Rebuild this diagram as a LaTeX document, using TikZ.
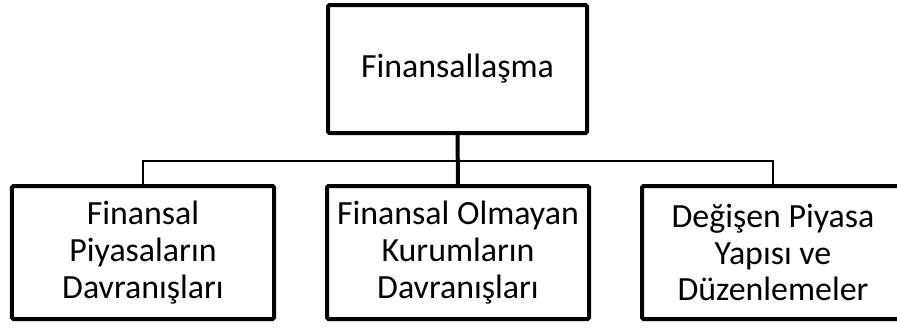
\documentclass[tikz,border=0pt]{standalone}
\usepackage{fontspec}
\setmainfont{Carlito}
\begin{document}
\begin{tikzpicture}[x=1bp,y=-1bp,
  box/.style={draw=black, line width=4bp, rounded corners=1.5bp, inner sep=0pt,
    align=center, text=black},
  topbox/.style={box, minimum width=259bp, minimum height=128bp,
    font=\fontsize{34}{41}\selectfont},
  subbox/.style={box, minimum width=262bp, minimum height=133bp,
    font=\fontsize{34}{37}\selectfont},
  stem/.style={draw=black, line width=4bp},
  branch/.style={draw=black, line width=1.3bp}]
\useasboundingbox (0,0) rectangle (897,327);
\clip (0,0) rectangle (897,327);

% root
\node[topbox] (top) at (457.5,69) {Finansallaşma};

% children
\node[subbox] (left)  at (143,252.5) {Finansal\\Piyasaların\\Davranışları};
\node[subbox] (mid)   at (458,252.5) {Finansal Olmayan\\Kurumların\\Davranışları};
\node[subbox] (right) at (773,252.5) {Değişen Piyasa\\Yapısı ve\\Düzenlemeler};

% connectors
\coordinate (junction) at (458,161);
\draw[branch] (left.north) |- (junction) -| (right.north);
\draw[stem] (top.south) -- (mid.north);
\end{tikzpicture}
\end{document}
